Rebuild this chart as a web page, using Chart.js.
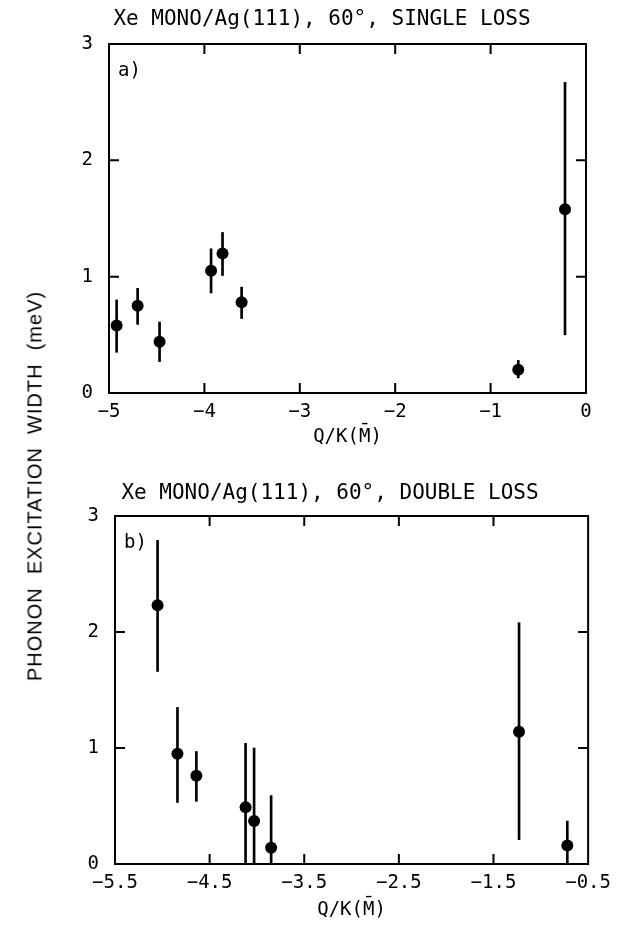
<!DOCTYPE html>
<html>
<head>
<meta charset="utf-8">
<script src="https://cdn.jsdelivr.net/npm/chart.js@4/dist/chart.umd.min.js"></script>
<style>
  html, body { margin: 0; padding: 0; background: #fff; }
  #page { position: relative; width: 619px; height: 925px; overflow: hidden; }
  .panel { position: absolute; left: 0; width: 619px; }
  #ytitle {
    position: absolute; left: 35px; top: 486px;
    transform: translate(-50%, -50%) rotate(-90deg);
    will-change: transform;
    -webkit-font-smoothing: antialiased;
    white-space: pre; font: 20px "Liberation Sans", Arial, sans-serif;
    letter-spacing: 1px; color: #000;
  }
</style>
</head>
<body>
<div id="page">
  <div id="ytitle">PHONON  EXCITATION  WIDTH  (meV)</div>
  <div class="panel" style="top:0;height:460px"><canvas id="single" width="619" height="460"></canvas></div>
  <div class="panel" style="top:460px;height:465px"><canvas id="double" width="619" height="465"></canvas></div>
</div>
<script>
// Panel a) single loss: wave vector, width, and error-bar limits (meV)
const singleQ    = [-4.92, -4.70, -4.47, -3.93, -3.81, -3.61, -0.71, -0.22];
const singleW    = [0.58, 0.75, 0.44, 1.05, 1.20, 0.78, 0.20, 1.58];
const singleLow  = [0.35, 0.59, 0.27, 0.86, 1.01, 0.64, 0.13, 0.50];
const singleHigh = [0.80, 0.90, 0.61, 1.24, 1.38, 0.91, 0.28, 2.67];

// Panel b) double loss
const doubleQ    = [-5.05, -4.84, -4.64, -4.12, -4.03, -3.85, -1.23, -0.72];
const doubleW    = [2.23, 0.95, 0.76, 0.49, 0.37, 0.14, 1.14, 0.16];
const doubleLow  = [1.66, 0.53, 0.54, 0.00, 0.00, 0.00, 0.21, 0.00];
const doubleHigh = [2.79, 1.35, 0.97, 1.04, 1.00, 0.59, 2.08, 0.37];

// Axis tick labels
const singleXTicks = ['\u22125', '\u22124', '\u22123', '\u22122', '\u22121', '0'];
const doubleXTicks = ['\u22125.5', '\u22124.5', '\u22123.5', '\u22122.5', '\u22121.5', '\u22120.5'];
const widthTicks   = ['0', '1', '2', '3'];

const singleHeading = 'Xe MONO/Ag(111), 60\u00b0, SINGLE LOSS';
const doubleHeading = 'Xe MONO/Ag(111), 60\u00b0, DOUBLE LOSS';
const qTitle = 'Q/K(M\u0304)';

const MONO = '"DejaVu Sans Mono", "Liberation Mono", monospace';

// Closed frame, inward tick marks on all four sides, panel tag and heading
const framePlugin = {
  id: 'frame',
  afterDraw(chart, args, opts) {
    const { ctx, chartArea: a, scales: { x, y } } = chart;
    ctx.save();
    ctx.strokeStyle = '#000';
    ctx.lineWidth = 2;
    ctx.strokeRect(a.left, a.top, a.right - a.left, a.bottom - a.top);
    ctx.beginPath();
    const len = 10;
    x.ticks.forEach(t => {
      const px = x.getPixelForValue(t.value);
      if (px > a.left + 2 && px < a.right - 2) {
        ctx.moveTo(px, a.bottom); ctx.lineTo(px, a.bottom - len);
        ctx.moveTo(px, a.top);    ctx.lineTo(px, a.top + len);
      }
    });
    y.ticks.forEach(t => {
      const py = y.getPixelForValue(t.value);
      if (py > a.top + 2 && py < a.bottom - 2) {
        ctx.moveTo(a.left, py);  ctx.lineTo(a.left + len, py);
        ctx.moveTo(a.right, py); ctx.lineTo(a.right - len, py);
      }
    });
    ctx.stroke();
    ctx.fillStyle = '#000';
    ctx.textBaseline = 'middle';
    ctx.font = '19px ' + MONO;
    ctx.textAlign = 'left';
    ctx.fillText(opts.tag, a.left + 9, a.top + 27);
    ctx.font = '21px ' + MONO;
    ctx.textAlign = 'center';
    ctx.fillText(opts.heading, opts.headingX, opts.headingY);
    ctx.restore();
  }
};

function buildChart(id, q, w, lo, hi, xMin, xMax, xTicks, geom, heading, tag) {
  const points = q.map((v, i) => ({ x: v, y: w[i] }));
  const bars = q.map((v, i) => ({ x: v, y: [lo[i], hi[i]] }));
  return new Chart(document.getElementById(id), {
    type: 'scatter',
    data: {
      datasets: [
        {
          type: 'bar', data: bars, backgroundColor: '#000', borderWidth: 0,
          barThickness: 2, grouped: false, order: 2
        },
        {
          type: 'scatter', data: points, backgroundColor: '#000', borderWidth: 0,
          pointRadius: 6, order: 1
        }
      ]
    },
    options: {
      responsive: false,
      animation: false,
      events: [],
      layout: { padding: { left: 0, right: geom.right, top: geom.top, bottom: 0 } },
      plugins: {
        legend: { display: false },
        tooltip: { enabled: false },
        frame: { tag: tag, heading: heading, headingX: geom.headingX, headingY: geom.headingY }
      },
      scales: {
        x: {
          type: 'linear', min: xMin, max: xMax, offset: false,
          grid: { display: false, drawTicks: false },
          border: { display: false },
          ticks: {
            stepSize: 1, padding: 8, color: '#000', maxRotation: 0,
            font: { family: MONO, size: 19 },
            callback: (v, i) => xTicks[i]
          },
          title: {
            display: true, text: qTitle, color: '#000',
            font: { family: MONO, size: 19 },
            padding: { top: 0, bottom: geom.titlePad }
          },
          afterFit: s => { s.height = geom.xHeight; }
        },
        y: {
          type: 'linear', min: 0, max: 3,
          grid: { display: false, drawTicks: false },
          border: { display: false },
          ticks: {
            stepSize: 1, padding: 16, color: '#000',
            font: { family: MONO, size: 19 },
            callback: (v, i) => widthTicks[i]
          },
          afterFit: s => { s.width = geom.yWidth; }
        }
      }
    },
    plugins: [framePlugin]
  });
}

buildChart('single', singleQ, singleW, singleLow, singleHigh, -5, 0, singleXTicks,
  { right: 33, top: 44, xHeight: 67, yWidth: 109, titlePad: 11.6, headingX: 322, headingY: 20 },
  singleHeading, 'a)');

buildChart('double', doubleQ, doubleW, doubleLow, doubleHigh, -5.5, -0.5, doubleXTicks,
  { right: 27, top: 56, xHeight: 61, yWidth: 115, titlePad: 3.6, headingX: 330, headingY: 34 },
  doubleHeading, 'b)');
</script>
</body>
</html>
